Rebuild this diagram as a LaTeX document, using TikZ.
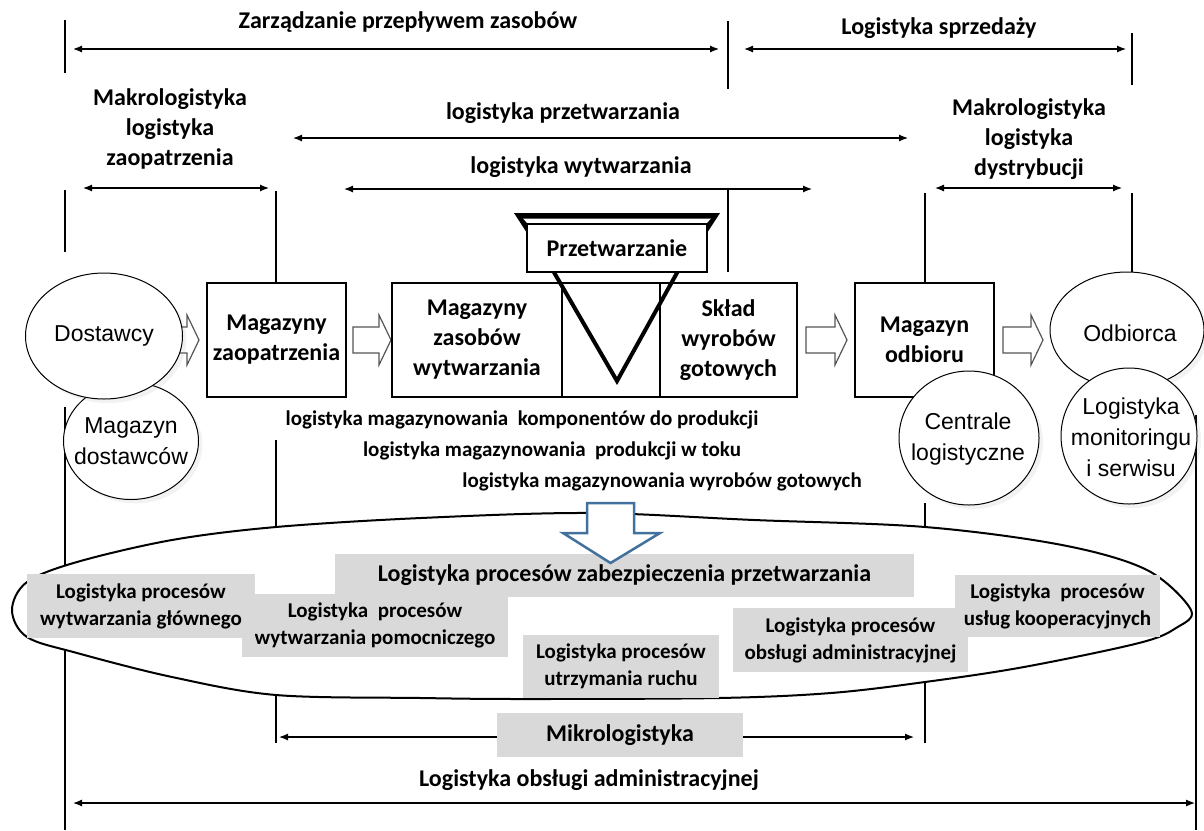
\documentclass[tikz,border=0pt]{standalone}
\usepackage{fontspec}
\setmainfont{Carlito}
\newfontfamily\arialfont{Liberation Sans}
\usetikzlibrary{arrows.meta,shapes.geometric,calc,shadows}

\definecolor{procgray}{HTML}{D9D9D9}
\definecolor{flowblue}{HTML}{41719C}
\definecolor{arrowgray}{HTML}{555555}

\begin{document}
\begin{tikzpicture}[x=1pt,y=-1pt,
  every node/.style={inner sep=0pt, outer sep=0pt},
  lbl/.style={font=\fontsize{24}{30}\selectfont\bfseries, align=center},
  sublbl/.style={font=\fontsize{21}{31}\selectfont\bfseries, align=center},
  stage/.style={draw, line width=1.3pt, fill=white, minimum height=114pt,
    font=\fontsize{24}{30}\selectfont\bfseries, align=center},
  party/.style={ellipse, draw, line width=1pt, fill=white,
    drop shadow={opacity=0.10, shadow xshift=4pt, shadow yshift=-4pt}},
  partytext/.style={font=\fontsize{23}{31}\selectfont\arialfont, align=center},
  proc/.style={fill=procgray, font=\fontsize{21}{27}\selectfont\bfseries, align=center},
  bigproc/.style={fill=procgray, font=\fontsize{24}{30}\selectfont\bfseries, align=center},
  span/.style={line width=1.2pt, {Latex[length=9pt,width=7pt]}-{Latex[length=9pt,width=7pt]}},
  tick/.style={line width=1.1pt},
  pics/blockarrow/.style={code={
    \draw[arrowgray, line width=1.2pt, fill=white]
      (0,-13) -- (#1-12,-13) -- (#1-12,-25) -- (#1,0) -- (#1-12,25)
      -- (#1-12,13) -- (0,13) -- cycle;}}
]
\useasboundingbox (0,0) rectangle (1204,830);

% ---------- separator ticks ----------
\draw[tick] (65,20) -- (65,73);
\draw[tick] (728,21) -- (728,89);
\draw[tick] (1132,33) -- (1132,85);
\draw[tick] (65,190) -- (65,252);
\draw[tick] (65,407) -- (65,830);
\draw[tick] (276,191) -- (276,283);
\draw[tick] (276,440) -- (276,743);
\draw[tick] (728,188) -- (728,272);
\draw[tick] (925,193) -- (925,283);
\draw[tick] (925,503) -- (925,743);
\draw[tick] (1132,193) -- (1132,272);
\draw[tick] (1196,415) -- (1196,830);

% ---------- span arrows and their labels ----------
\coordinate (zarL) at (73,49);   \coordinate (zarR) at (719,49);
\coordinate (sprL) at (744,49);  \coordinate (sprR) at (1126,49);
\coordinate (zaoL) at (83,188);  \coordinate (zaoR) at (269,188);
\coordinate (przL) at (293,138); \coordinate (przR) at (908,138);
\coordinate (wytL) at (344,189); \coordinate (wytR) at (812,189);
\coordinate (dysL) at (935,188); \coordinate (dysR) at (1122,188);
\coordinate (mikL) at (279,737); \coordinate (mikR) at (914,737);
\coordinate (admL) at (73,803);  \coordinate (admR) at (1195,803);

\draw[span] (zarL) -- (zarR);
\draw[span] (sprL) -- (sprR);
\draw[span] (zaoL) -- (zaoR);
\draw[span] (przL) -- (przR);
\draw[span] (wytL) -- (wytR);
\draw[span] (dysL) -- (dysR);
\draw[span] (mikL) -- (mikR);
\draw[span] (admL) -- (admR);

\node[lbl] (tZar) at (408,22) {Zarządzanie przepływem zasobów};
\node[lbl] (tSpr) at (939,28) {Logistyka sprzedaży};
\node[lbl] (tZao) at (170,129) {Makrologistyka\\logistyka\\zaopatrzenia};
\node[lbl] (tPrz) at (563,113) {logistyka przetwarzania};
\node[lbl] (tWyt) at (581,167) {logistyka wytwarzania};
\node[lbl] (tDys) at (1029,139) {Makrologistyka\\logistyka\\dystrybucji};

% ---------- flow of stages ----------
\node[stage, minimum width=139pt] (mz) at (276.5,340) {Magazyny\\zaopatrzenia};
\pic at ($(mz.west)+(-48,0)$) {blockarrow=40};
\pic at ($(mz.east)+(7,0)$) {blockarrow=38};

\node[party, minimum width=135pt, minimum height=117pt] (md) at (131,441) {};
\node[partytext] at (md) {Magazyn\\dostawców};
\node[party, minimum width=157pt, minimum height=126pt] (dost) at (104,336) {};
\node[partytext] at (dost) {Dostawcy};

\node[stage, minimum width=170pt] (mzw) at (477,340) {Magazyny\\zasobów\\wytwarzania};
\node[stage, minimum width=98pt] (mid) at (611,340) {};
\node[stage, minimum width=137pt] (skl) at (728.5,340) {Skład\\wyrobów\\gotowych};

% funnel of the processing stage
\fill (514,213) -- (720,213) -- (707,233) -- (527,233) -- cycle;
\fill[white] (523,218.5) -- (711,218.5) -- (706,224) -- (528,224) -- cycle;
\draw[line width=4pt, line join=miter] (548,262) -- (617,381) -- (683,262);
\node[draw, line width=1.3pt, fill=white, minimum width=180pt, minimum height=48pt, lbl]
  (prz) at (617,248) {Przetwarzanie};

\pic at ($(skl.east)+(9,0)$) {blockarrow=41};
\node[stage, minimum width=139pt] (mo) at (924.5,340) {Magazyn\\odbioru};
\pic at ($(mo.east)+(9,0)$) {blockarrow=40};

\node[party, minimum width=154pt, minimum height=116pt] (odb) at (1127,330) {};
\node[partytext] at (1130,333) {Odbiorca};
\node[party, minimum width=140pt, minimum height=134pt] (cen) at (969,438) {};
\node[partytext] at (968,439) {Centrale\\logistyczne};
\node[party, minimum width=136pt, minimum height=136pt] (mon) at (1129,436) {};
\node[partytext] at (1131,437) {Logistyka\\monitoringu\\i serwisu};

% ---------- storage logistics ----------
\node[sublbl] (s1) at (522,420) {logistyka magazynowania~~komponentów do produkcji};
\node[sublbl] (s2) at (552,451) {logistyka magazynowania~~produkcji w toku};
\node[sublbl] (s3) at (662,482) {logistyka magazynowania wyrobów gotowych};

% ---------- processes securing the processing ----------
\draw[line width=2pt, fill=white] plot[smooth cycle, tension=0.55] coordinates {
  (12,610) (27,582) (77,562) (172,540) (276,527) (421,518) (589,513)
  (754,520) (925,527) (1062,545) (1147,570) (1191,610) (1176,628)
  (1139,643) (1024,667) (925,682) (831,693) (719,698) (523,699)
  (421,698) (276,695) (172,677) (77,653) (27,637)};

\node[bigproc, minimum width=579pt, minimum height=43pt] (g1) at (624.5,575.5)
  {Logistyka procesów zabezpieczenia przetwarzania};
\node[proc, minimum width=266pt, minimum height=63pt] (g3) at (375,625.5)
  {Logistyka~~procesów\\wytwarzania pomocniczego};
\node[proc, minimum width=228pt, minimum height=64pt] (g2) at (141,606)
  {Logistyka procesów\\wytwarzania głównego};
\node[proc, minimum width=196pt, minimum height=63pt] (g4) at (621,666.5)
  {Logistyka procesów\\utrzymania ruchu};
\node[proc, minimum width=235pt, minimum height=64pt] (g5) at (850.5,640)
  {Logistyka procesów\\obsługi administracyjnej};
\node[proc, minimum width=205pt, minimum height=62pt] (g6) at (1057.5,606)
  {Logistyka~~procesów\\usług kooperacyjnych};

\draw[flowblue, line width=2.5pt, fill=white, line join=miter]
  (587,503) -- (634,503) -- (634,533) -- (660,533) -- (610.5,563)
  -- (563,533) -- (587,533) -- cycle;

\node[bigproc, minimum width=246pt, minimum height=44pt] (g7) at (620,735) {Mikrologistyka};
\node[lbl] (tAdm) at (589,780) {Logistyka obsługi administracyjnej};
\end{tikzpicture}
\end{document}
